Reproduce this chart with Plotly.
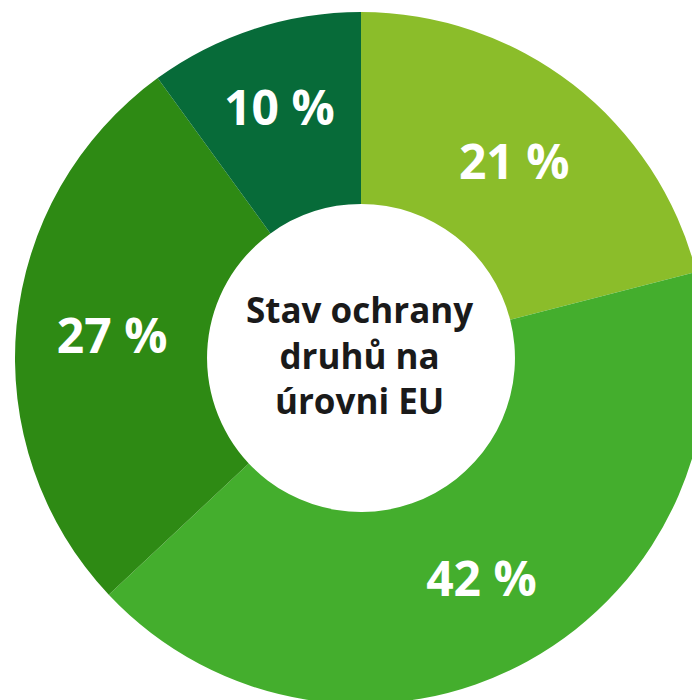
import plotly.graph_objects as go

labels = ["Segment A", "Segment B", "Segment C", "Segment D"]
values = [21, 42, 27, 10]
text_labels = ["21 %", "42 %", "27 %", "10 %"]
colors = ["#8bbd2a", "#44ae2d", "#2e8a14", "#076b39"]
center_title = "Stav ochrany<br>druhů na<br>úrovni EU"

fig = go.Figure(go.Pie(
    labels=labels,
    values=values,
    text=text_labels,
    textinfo="text",
    texttemplate="%{text}",
    textposition="inside",
    insidetextorientation="horizontal",
    insidetextfont=dict(family="Open Sans", size=48, color="white", weight="bold"),
    marker=dict(colors=colors, line=dict(width=0)),
    hole=0.445,
    sort=False,
    direction="clockwise",
    rotation=0,
    domain=dict(x=[7/700, 699/700], y=[4/700, 696/700]),
    showlegend=False,
    hoverinfo="skip",
))

fig.add_annotation(
    text=center_title,
    x=351/700, y=1 - 347/700, xref="paper", yref="paper",
    showarrow=False,
    font=dict(family="Open Sans", size=35, color="#1a1a1a", weight="bold"),
    align="center",
)

fig.update_layout(
    width=700, height=700,
    margin=dict(l=0, r=0, t=0, b=0),
    paper_bgcolor="white",
    plot_bgcolor="white",
)

fig.write_html("out.html")
